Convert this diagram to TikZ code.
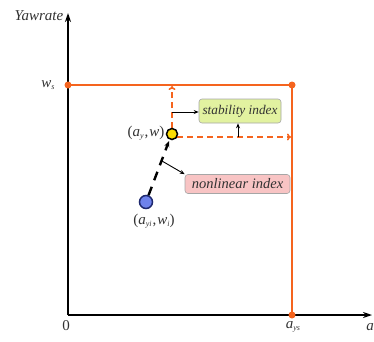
\documentclass[tikz,border=0pt]{standalone}
\usepackage{fontspec}
\setmainfont{Liberation Serif}
\usetikzlibrary{arrows.meta}
\definecolor{orng}{RGB}{245,100,30}
\definecolor{boxgreen}{RGB}{226,242,160}
\definecolor{boxpink}{RGB}{248,196,196}
\definecolor{ptblue}{RGB}{110,130,235}
\definecolor{ptdark}{RGB}{30,40,110}
\definecolor{txt}{RGB}{50,50,50}
\newcommand{\vi}[1]{\textit{#1}}
\newcommand{\sbs}[1]{\raisebox{-0.35ex}{\fontsize{8}{8}\selectfont\itshape #1}}
\tikzset{
  axis/.style={line width=2.2pt, -{Stealth[length=9pt,width=6pt]}},
  limit/.style={orng, line width=2pt},
  ldot/.style={circle, fill=orng, inner sep=0pt, minimum size=7pt},
  darr/.style={orng, line width=1.6pt, dash pattern=on 6pt off 4pt, -{To[length=4pt,width=7pt]}},
  idxbox/.style={draw=gray!70, rounded corners=3pt, line width=0.6pt, inner xsep=2pt, inner ysep=2pt, text=txt},
  lbl/.style={text=txt, font=\fontsize{15}{16}\selectfont},
  harr/.style={line width=0.9pt, -{Stealth[length=5pt,width=4pt]}}
}
\begin{document}
\begin{tikzpicture}[x=1pt,y=-1pt]
\useasboundingbox (0,0) rectangle (374,341);
% axes
\coordinate (O) at (68,315);
\coordinate (ytip) at (68,13);
\coordinate (xtip) at (372,315);
\draw[axis] (O) -- (ytip);
\draw[axis] (O) -- (xtip);
\node[lbl, font=\itshape\fontsize{15}{16}\selectfont] (ylab) at (39,16) {Yawrate};
\node[lbl] (zero) at (66,326) {0};
\node[lbl] (ays) at (293,327) {\vi{a}\sbs{ys}};
\node[lbl, anchor=east, inner xsep=0pt] (alab) at (374,327) {\vi{a}};
\node[lbl] (ws) at (48,85) {\vi{w}\sbs{s}};
% limit lines
\coordinate (WS) at (68,85);
\coordinate (C) at (292,85);
\coordinate (AS) at (292,315);
\draw[limit] (WS) -- (C) -- (AS);
\node[ldot] (d1) at (WS) {};
\node[ldot] (d2) at (C) {};
\node[ldot] (d3) at (AS) {};
% current point
\coordinate (P) at (172,134);
\coordinate (Pup) at (172,86);
\coordinate (Pright) at (291,137);
\draw[darr] (172,128) -- (Pup);
\draw[darr] (177,137) -- (Pright);
% boxes
\node[idxbox, fill=boxgreen, minimum width=82pt, minimum height=24pt, font=\itshape\fontsize{13.3}{14}\selectfont] (stab) at (240,111) {stability index};
\node[idxbox, fill=boxpink, minimum width=105pt, minimum height=19pt, font=\itshape\fontsize{14.5}{15}\selectfont] (nonl) at (237.5,184) {nonlinear index};
\coordinate (s1) at (172,112);
\draw[harr] (s1) -- (stab.west |- s1);
\coordinate (s2) at (238,137);
\draw[harr] (s2) -- (stab.south -| s2);
\coordinate (n1) at (162,161);
\draw[harr] (n1) -- (nonl.north west);
% dashed trajectory
\node[circle, draw=ptdark, fill=ptblue, line width=1.5pt, minimum size=13pt, inner sep=0pt] (Pi) at (146,202) {};
\draw[line width=2.4pt, dash pattern=on 9pt off 7pt, -{Stealth[length=6pt,width=5pt]}] (Pi) -- (169,141);
\node[circle, draw=black, fill=yellow!80!orange, line width=1.5pt, minimum size=11pt, inner sep=0pt] (Pn) at (P) {};
\node[lbl] (pl) at (146,133) {(\vi{a}\sbs{y}\kern1pt,\kern1pt\vi{w})};
\node[lbl] (pil) at (154,221) {(\vi{a}\sbs{yi}\kern1pt,\kern1pt\vi{w}\sbs{i})};
\end{tikzpicture}
\end{document}
